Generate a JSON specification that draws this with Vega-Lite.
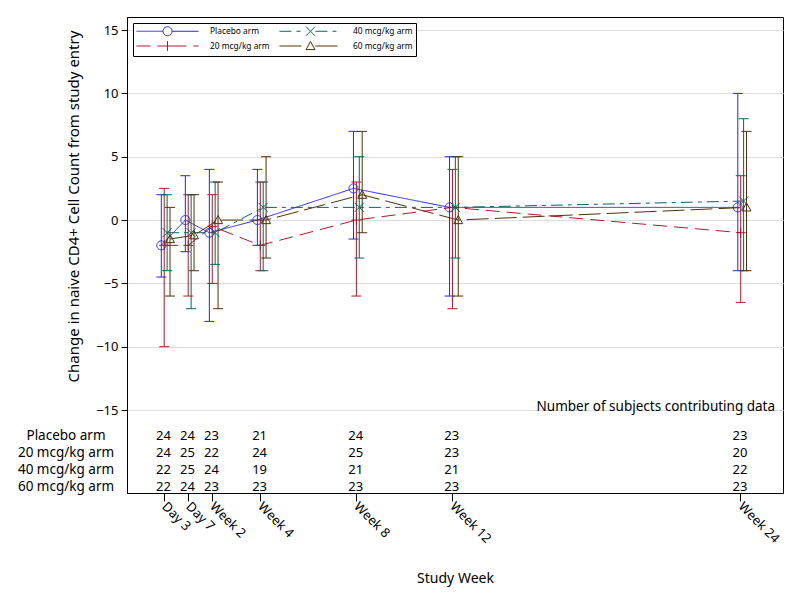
{
  "$schema": "https://vega.github.io/schema/vega-lite/v6.json",
  "width": 656,
  "height": 476,
  "autosize": {"type": "none"},
  "padding": {"left": 127, "top": 17, "right": 17, "bottom": 107},
  "background": "white",
  "config": {
    "font": "Noto Sans",
    "view": {"stroke": "black", "strokeWidth": 1},
    "axis": {"labelColor": "black", "titleColor": "black", "domainColor": "black", "tickColor": "black", "titleFontWeight": "normal", "labelFontSize": 13, "titleFontSize": 14}
  },
  "datasets": {
    "stats": [
      {"arm": "Placebo arm", "week": 0, "mean": -2, "lo": -4.5, "hi": 2, "n": 24},
      {"arm": "Placebo arm", "week": 1, "mean": 0, "lo": -2.5, "hi": 3.5, "n": 24},
      {"arm": "Placebo arm", "week": 2, "mean": -1, "lo": -8, "hi": 4, "n": 23},
      {"arm": "Placebo arm", "week": 4, "mean": 0, "lo": -2, "hi": 4, "n": 21},
      {"arm": "Placebo arm", "week": 8, "mean": 2.5, "lo": -1.5, "hi": 7, "n": 24},
      {"arm": "Placebo arm", "week": 12, "mean": 1, "lo": -6, "hi": 5, "n": 23},
      {"arm": "Placebo arm", "week": 24, "mean": 1, "lo": -4, "hi": 10, "n": 23},
      {"arm": "20 mcg/kg arm", "week": 0, "mean": -2, "lo": -10, "hi": 2.5, "n": 24},
      {"arm": "20 mcg/kg arm", "week": 1, "mean": -2, "lo": -6, "hi": 2, "n": 25},
      {"arm": "20 mcg/kg arm", "week": 2, "mean": -0.5, "lo": -5, "hi": 2, "n": 22},
      {"arm": "20 mcg/kg arm", "week": 4, "mean": -2, "lo": -4, "hi": 3, "n": 24},
      {"arm": "20 mcg/kg arm", "week": 8, "mean": 0, "lo": -6, "hi": 3, "n": 25},
      {"arm": "20 mcg/kg arm", "week": 12, "mean": 1, "lo": -7, "hi": 4, "n": 23},
      {"arm": "20 mcg/kg arm", "week": 24, "mean": -1, "lo": -6.5, "hi": 3.5, "n": 20},
      {"arm": "40 mcg/kg arm", "week": 0, "mean": -1, "lo": -4, "hi": 2, "n": 22},
      {"arm": "40 mcg/kg arm", "week": 1, "mean": -1, "lo": -7, "hi": 2, "n": 25},
      {"arm": "40 mcg/kg arm", "week": 2, "mean": -1, "lo": -3.5, "hi": 3, "n": 24},
      {"arm": "40 mcg/kg arm", "week": 4, "mean": 1, "lo": -4, "hi": 3, "n": 19},
      {"arm": "40 mcg/kg arm", "week": 8, "mean": 1, "lo": -3, "hi": 5, "n": 21},
      {"arm": "40 mcg/kg arm", "week": 12, "mean": 1, "lo": -3, "hi": 5, "n": 21},
      {"arm": "40 mcg/kg arm", "week": 24, "mean": 1.5, "lo": -4, "hi": 8, "n": 22},
      {"arm": "60 mcg/kg arm", "week": 0, "mean": -1.5, "lo": -6, "hi": 1, "n": 22},
      {"arm": "60 mcg/kg arm", "week": 1, "mean": -1.2, "lo": -4, "hi": 2, "n": 24},
      {"arm": "60 mcg/kg arm", "week": 2, "mean": 0, "lo": -7, "hi": 3, "n": 23},
      {"arm": "60 mcg/kg arm", "week": 4, "mean": 0, "lo": -3, "hi": 5, "n": 23},
      {"arm": "60 mcg/kg arm", "week": 8, "mean": 2, "lo": -1, "hi": 7, "n": 23},
      {"arm": "60 mcg/kg arm", "week": 12, "mean": 0, "lo": -6, "hi": 5, "n": 23},
      {"arm": "60 mcg/kg arm", "week": 24, "mean": 1, "lo": -4, "hi": 7, "n": 23}
    ]
  },
  "data": {"name": "stats"},
  "layer": [
    {
      "layer": [
        {
          "mark": {"type": "line", "strokeWidth": 1,
            "xOffset": {"expr": "indexof(['Placebo arm','20 mcg/kg arm','40 mcg/kg arm','60 mcg/kg arm'], datum.arm) * 2.9 - 2.2"},
            "color": {"expr": "['#2A25D9','#B2182B','#01665E','#543005'][indexof(['Placebo arm','20 mcg/kg arm','40 mcg/kg arm','60 mcg/kg arm'], datum.arm)]"},
            "strokeDash": {"expr": "[[1,0],[14,7],[12,5,4,5],[22,6]][indexof(['Placebo arm','20 mcg/kg arm','40 mcg/kg arm','60 mcg/kg arm'], datum.arm)]"}},
          "encoding": {
            "x": {"field": "week", "type": "quantitative", "scale": {"domain": [-1.52, 25.79], "nice": false, "zero": false},
              "axis": {"values": [0, 1, 2, 4, 8, 12, 24], "labelExpr": "datum.value == 0 ? 'Day 3' : datum.value == 1 ? 'Day 7' : 'Week ' + datum.value", "labelAngle": 45, "labelAlign": "left", "labelBaseline": "middle", "tickSize": 8, "grid": false, "title": "Study Week", "titlePadding": 26, "labelPadding": 3, "labelBound": false, "labelOverlap": false}},
            "y": {"field": "mean", "type": "quantitative", "scale": {"domain": [-21.55, 16.03], "nice": false, "zero": false},
              "axis": {"values": [-15, -10, -5, 0, 5, 10, 15], "grid": true, "gridColor": "#DCDCDC", "tickSize": 6, "title": "Change in naive CD4+ Cell Count from study entry", "titleFontSize": 15, "titleY": 189, "titlePadding": 14, "labelPadding": 3}},
            "detail": {"field": "arm", "type": "nominal"}
          }
        },
        {
          "mark": {"type": "rule", "strokeWidth": 1,
            "xOffset": {"expr": "indexof(['Placebo arm','20 mcg/kg arm','40 mcg/kg arm','60 mcg/kg arm'], datum.arm) * 2.9 - 2.2"},
            "color": {"expr": "['#2A25D9','#B2182B','#01665E','#543005'][indexof(['Placebo arm','20 mcg/kg arm','40 mcg/kg arm','60 mcg/kg arm'], datum.arm)]"}},
          "encoding": {
            "x": {"field": "week", "type": "quantitative"},
            "y": {"field": "lo", "type": "quantitative"},
            "y2": {"field": "hi"}
          }
        },
        {
          "transform": [{"fold": ["lo", "hi"], "as": ["bound", "yv"]}],
          "mark": {"type": "tick", "orient": "horizontal", "size": 10, "thickness": 1, "opacity": 1,
            "xOffset": {"expr": "indexof(['Placebo arm','20 mcg/kg arm','40 mcg/kg arm','60 mcg/kg arm'], datum.arm) * 2.9 - 2.2"},
            "color": {"expr": "['#2A25D9','#B2182B','#01665E','#543005'][indexof(['Placebo arm','20 mcg/kg arm','40 mcg/kg arm','60 mcg/kg arm'], datum.arm)]"}},
          "encoding": {
            "x": {"field": "week", "type": "quantitative"},
            "y": {"field": "yv", "type": "quantitative"}
          }
        },
        {
          "mark": {"type": "point", "filled": false, "size": 81, "strokeWidth": 1, "opacity": 1,
            "xOffset": {"expr": "indexof(['Placebo arm','20 mcg/kg arm','40 mcg/kg arm','60 mcg/kg arm'], datum.arm) * 2.9 - 2.2"},
            "shape": {"expr": "datum.arm ? ['circle','M-1.1,0H1.1M0,-1.1V1.1','M-1,-1L0,0M0,0L1,1M-1,1L0,0M0,0L1,-1','M0,-1L1,0.8M1,0.8L-1,0.8M-1,0.8L0,-1'][indexof(['Placebo arm','20 mcg/kg arm','40 mcg/kg arm','60 mcg/kg arm'], datum.arm)] : ['M-6.9,0H-1M1,0H6.9M1,0A1,1 0 0,1 0,1M0,1A1,1 0 0,1 -1,0M-1,0A1,1 0 0,1 0,-1M0,-1A1,1 0 0,1 1,0','M-6.9,0H-1.1M1.1,0H6.9M-1.1,0H0M0,0H1.1M0,-1.1V0M0,0V1.1','M-6.9,0H-1.1M1.1,0H6.9M-1,-1L0,0M0,0L1,1M-1,1L0,0M0,0L1,-1','M-6.9,0H-1.1M1.1,0H6.9M0,-1L1,0.8M1,0.8L-1,0.8M-1,0.8L0,-1'][indexof(['Placebo arm','20 mcg/kg arm','40 mcg/kg arm','60 mcg/kg arm'], datum.value)]"}},
          "encoding": {
            "x": {"field": "week", "type": "quantitative"},
            "y": {"field": "mean", "type": "quantitative"},
            "strokeDash": {"field": "arm", "type": "nominal", "scale": {"domain": ["Placebo arm", "20 mcg/kg arm", "40 mcg/kg arm", "60 mcg/kg arm"], "range": [[1, 0], [14, 7], [12, 5, 4, 5], [22, 6]]},
              "legend": {"orient": "top-left", "offset": 6, "columns": 2, "title": null, "strokeColor": "black", "fillColor": "white", "padding": 3, "labelFontSize": 8.4, "labelColor": "black", "symbolSize": 81, "symbolStrokeWidth": 1, "symbolFillColor": "transparent", "symbolOpacity": 1, "symbolOffset": 26.5, "labelOffset": 37.5, "columnPadding": 7, "rowPadding": 1}},
            "color": {"field": "arm", "type": "nominal", "scale": {"domain": ["Placebo arm", "20 mcg/kg arm", "40 mcg/kg arm", "60 mcg/kg arm"], "range": ["#2A25D9", "#B2182B", "#01665E", "#543005"]},
              "legend": {"orient": "top-left", "offset": 6, "columns": 2, "title": null, "strokeColor": "black", "fillColor": "white", "padding": 3, "labelFontSize": 8.4, "labelColor": "black", "symbolSize": 81, "symbolStrokeWidth": 1, "symbolFillColor": "transparent", "symbolOpacity": 1, "symbolOffset": 26.5, "labelOffset": 37.5, "columnPadding": 7, "rowPadding": 1}}
          }
        },
        {
          "data": {"values": [{"label": "Number of subjects contributing data"}]},
          "mark": {"type": "text", "align": "right", "baseline": "alphabetic", "fontSize": 13.5, "color": "black"},
          "encoding": {
            "x": {"datum": 25.46, "type": "quantitative"},
            "y": {"datum": -15.1, "type": "quantitative"},
            "text": {"field": "label"}
          }
        }
      ]
    },
    {
      "mark": {"type": "text", "fontSize": 13, "color": "black", "baseline": "middle"},
      "encoding": {
        "x": {"field": "week", "type": "quantitative"},
        "y": {"field": "arm", "type": "nominal",
          "scale": {"type": "point", "domain": ["Placebo arm", "20 mcg/kg arm", "40 mcg/kg arm", "60 mcg/kg arm"], "range": [418.6, 469.6], "padding": 0},
          "axis": {"orient": "left", "title": null, "domain": false, "ticks": false, "tickSize": 0, "labelAlign": "center", "labelPadding": 61.5, "labelFontSize": 13.5, "grid": false}},
        "text": {"field": "n", "type": "quantitative"}
      }
    }
  ],
  "resolve": {"scale": {"y": "independent"}, "axis": {"y": "independent"}}
}
